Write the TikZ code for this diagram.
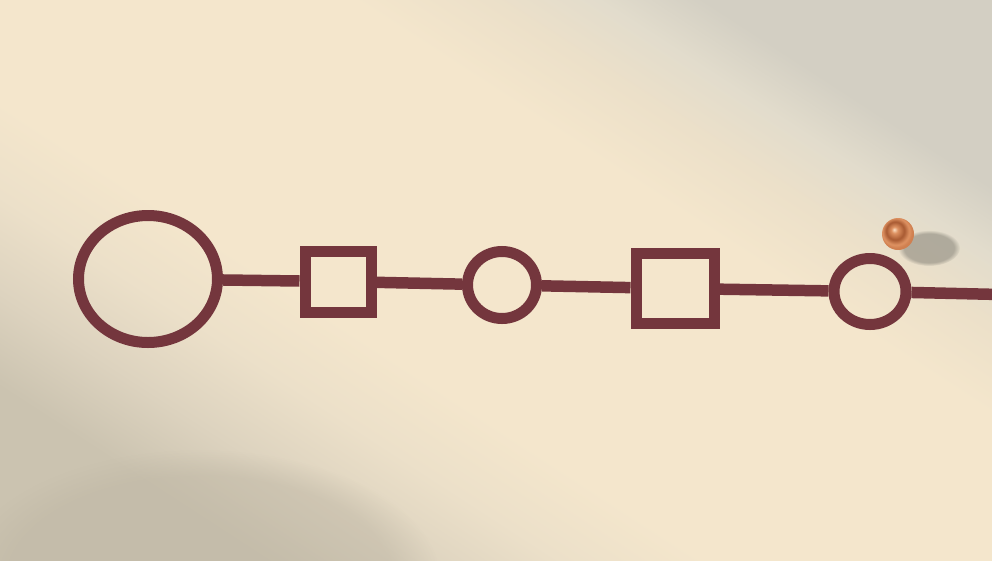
\documentclass[tikz,border=0pt]{standalone}
\usepackage{tikz}
\usetikzlibrary{shapes.geometric, fadings}
\definecolor{ink}{HTML}{74363D}
\definecolor{paperhi}{HTML}{F4E6CC}
\definecolor{paperlo}{HTML}{ECE0C9}
\definecolor{papermid}{HTML}{DDD3BF}
\definecolor{shadebl}{HTML}{CBC3B0}
\definecolor{greytr}{HTML}{E2DCCC}
\definecolor{shadetr}{HTML}{D3CFC3}
\definecolor{patch}{HTML}{BDB5A3}
\definecolor{copperhi}{HTML}{FBE0C4}
\definecolor{copper}{HTML}{DE9262}
\definecolor{copperdk}{HTML}{A85A32}
\definecolor{copperrim}{HTML}{D08050}
\definecolor{ballshadow}{HTML}{8C887D}
\pgfdeclareverticalshading{paperlight}{100bp}{color(0bp)=(shadebl); color(35bp)=(shadebl); color(38.3bp)=(papermid); color(41.7bp)=(paperlo); color(45bp)=(paperhi); color(56.5bp)=(paperhi); color(59.6bp)=(paperlo); color(62.1bp)=(greytr); color(64.5bp)=(shadetr); color(100bp)=(shadetr)}
\pgfdeclareradialshading{copperball}{\pgfpoint{-6bp}{7bp}}{color(0bp)=(copperhi); color(5bp)=(copper); color(14bp)=(copperdk); color(21bp)=(copper); color(25bp)=(copperrim); color(50bp)=(copperrim)}

\begin{document}
\begin{tikzpicture}[x=1pt, y=-1pt,
	ring/.style={draw=ink, line width=11pt, ellipse, inner sep=0pt},
	box/.style={draw=ink, line width=11pt, rectangle, inner sep=0pt},
	wire/.style={draw=ink, line width=11.5pt}]
	\useasboundingbox (0,0) rectangle (992,560);
	
% paper + light
	\begin{scope}
		\clip (0,0) rectangle (992,560);
		\fill[paperhi] (0,0) rectangle (992,560);
		\shade[overlay, shading=paperlight, transform canvas={rotate around={-33:(496,280)}}] (-104,-320) rectangle (1096,880);
		% dark patch bottom left
		\fill[patch, fill opacity=0.45, path fading=circle with fuzzy edge 20 percent] (200,580) ellipse [x radius=240, y radius=130];
	\end{scope}
	
% ball shadow
	\fill[ballshadow, fill opacity=0.6, path fading=circle with fuzzy edge 20 percent] (929,248) ellipse [x radius=31, y radius=18];
	
% rings and boxes
	\node[ring, minimum width=139pt, minimum height=127pt] (c1) at (148,279) {};
	\node[box, minimum width=66pt, minimum height=61pt] (sq1) at (338,281.5) {};
	\node[ring, minimum width=69pt, minimum height=67pt] (c2) at (502,285) {};
	\node[box, minimum width=78pt, minimum height=70pt] (sq2) at (675,288.5) {};
	\node[ring, minimum width=72pt, minimum height=66pt] (c3) at (870,291.5) {};
	\coordinate (wireend) at (1000,294.5);
	
	% line
	\draw[wire] (c1) -- (sq1);
	\draw[wire] (sq1) -- (c2);
	\draw[wire] (c2) -- (sq2);
	\draw[wire] (sq2) -- (c3);
	\draw[wire] (c3) -- (wireend);
	
% copper ball
	\node[circle, minimum size=32pt, inner sep=0pt, shade, shading=copperball] (ball) at (898,234) {};

\end{tikzpicture}
\end{document}
